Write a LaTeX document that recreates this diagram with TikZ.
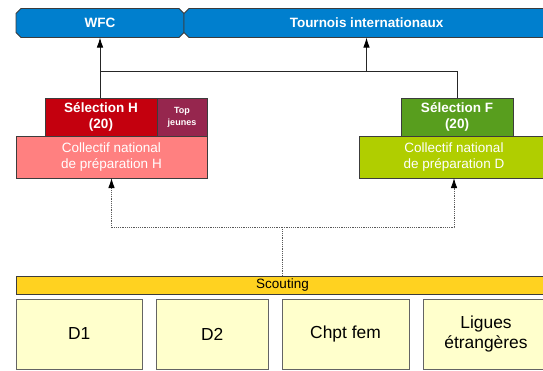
\documentclass[tikz,border=0pt]{standalone}
\usepackage{fontspec}
\setmainfont{Liberation Sans}
\usetikzlibrary{arrows.meta,backgrounds}
\definecolor{barblue}{RGB}{0,127,206}
\definecolor{selred}{RGB}{196,0,14}
\definecolor{topjeunes}{RGB}{150,38,78}
\definecolor{collpink}{RGB}{255,128,128}
\definecolor{selgreen}{RGB}{88,158,30}
\definecolor{colllime}{RGB}{176,206,0}
\definecolor{scoutgold}{RGB}{255,210,32}
\definecolor{srcyellow}{RGB}{255,255,204}
\definecolor{edgegrey}{RGB}{60,60,60}
\definecolor{srcedge}{RGB}{100,100,100}
\definecolor{dotgrey}{RGB}{90,90,90}
\begin{document}
\begin{tikzpicture}[x=1pt,y=-1pt,
  base/.style={rectangle,inner sep=0pt,outer sep=0pt,align=center},
  colbox/.style={base,draw=edgegrey,line width=0.8pt,text=white},
  midfont/.style={font=\fontsize{13.5}{15.5}\selectfont},
  boldfont/.style={font=\fontsize{13.5}{15.8}\selectfont\bfseries},
  smallbold/.style={font=\fontsize{9}{12}\selectfont\bfseries},
  bigfont/.style={font=\fontsize{17.4}{19.5}\selectfont},
  srcbox/.style={base,draw=srcedge,line width=0.8pt,fill=srcyellow,text=black,bigfont,minimum height=70pt},
  conn/.style={line width=0.9pt,draw=black!85},
  dotconn/.style={line width=0.9pt,draw=dotgrey,dash pattern=on 1.2pt off 1pt},
  tip/.style={-{Latex[length=10pt,width=6.5pt,black]}}
]
\useasboundingbox (0,0) rectangle (543,370);
\clip (0,0) rectangle (543,370);

% top bars
\node[base,boldfont,text=white,minimum width=168pt,minimum height=29pt] (wfc) at (100,23) {WFC};
\node[base,boldfont,text=white,minimum width=365pt,minimum height=29pt] (tour) at (366.5,23) {Tournois internationaux};
\begin{scope}[on background layer]
  \def\ch{5pt}
  \path[fill=barblue,draw=edgegrey,line width=0.8pt]
    ([xshift=\ch]wfc.north west) -- ([xshift=-\ch]wfc.north east) -- ([yshift=-\ch]wfc.north east)
    -- ([yshift=\ch]wfc.south east) -- ([xshift=-\ch]wfc.south east) -- ([xshift=\ch]wfc.south west)
    -- ([yshift=\ch]wfc.south west) -- ([yshift=-\ch]wfc.north west) -- cycle;
  \path[fill=barblue,draw=edgegrey,line width=0.8pt]
    ([xshift=\ch]tour.north west) -- ([xshift=10pt]tour.north east) -- ([xshift=10pt]tour.south east)
    -- ([xshift=\ch]tour.south west) -- ([yshift=\ch]tour.south west) -- ([yshift=-\ch]tour.north west) -- cycle;
\end{scope}

% selections and collectifs
\node[colbox,boldfont,fill=selred,minimum width=112pt,minimum height=38pt] (selH) at (101,117) {Sélection H\\(20)};
\node[colbox,smallbold,fill=topjeunes,minimum width=50pt,minimum height=38pt] (topj) at (182,117) {Top\\jeunes};
\node[colbox,midfont,fill=collpink,minimum width=191pt,minimum height=42pt] (collH) at (111.5,157) {Collectif national\\de préparation H};

\node[colbox,boldfont,fill=selgreen,minimum width=112pt,minimum height=38pt] (selF) at (457,117) {Sélection F\\(20)};
\node[colbox,midfont,fill=colllime,minimum width=190pt,minimum height=42pt] (collD) at (454,157) {Collectif national\\de préparation D};

% scouting and sources
\node[base,draw=edgegrey,line width=0.8pt,fill=scoutgold,text=black,midfont,minimum width=533pt,minimum height=18pt] (scout) at (282.5,285) {Scouting};
\node[srcbox,minimum width=126.5pt] (d1) at (79.25,334) {D1};
\node[srcbox,minimum width=112.5pt] (d2) at (212.25,334) {D2};
\node[srcbox,minimum width=127pt] (chpt) at (345.5,334) {Chpt fem};
\node[srcbox,minimum width=126pt] (lig) at (486,334) {Ligues\\étrangères};

% solid connectors
\coordinate (jL) at (100,71);
\draw[conn,tip] (selH.north -| jL) -- (jL |- wfc.south);
\draw[conn] (jL) -| (selF.north);
\draw[conn,tip] (jL -| tour.south) -- (tour.south);

% dotted connectors
\coordinate (jD) at (282,227);
\draw[dotconn] (scout.north -| jD) -- (jD);
\draw[dotconn,tip] (jD) -| (collH.south);
\draw[dotconn,tip] (jD) -| (collD.south);
\end{tikzpicture}
\end{document}
